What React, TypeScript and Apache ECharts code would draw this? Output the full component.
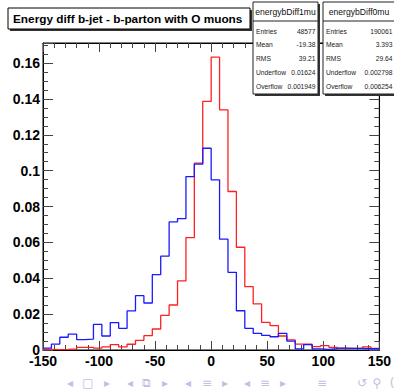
import React, { useEffect, useRef } from "react";
import * as echarts from "echarts";

const xMin = -150;
const xMax = 150;
const binWidth = 7.5;

// bin contents, 40 bins of width 7.5 from -150 to 150
const blueValues = [
  0.001, 0.0033, 0.0071, 0.0089, 0.0058, 0.0061, 0.0143, 0.0078, 0.0153, 0.0121,
  0.0218, 0.0303, 0.0262, 0.042, 0.0523, 0.0714, 0.0733, 0.0967, 0.1036, 0.1125,
  0.0949, 0.0618, 0.0433, 0.0219, 0.0121, 0.0093, 0.0082, 0.0074, 0.0093, 0.005,
  0.0006, 0.003, 0.0006, 0.0004, 0.0007, 0.0011, 0.0009, 0.0009, 0.0007, 0.0007,
];
const redValues = [
  0.0004, 0.0002, 0.0003, 0.0006, 0.0015, 0.0015, 0.0011, 0.0017, 0.003, 0.0017,
  0.0032, 0.0054, 0.008, 0.0117, 0.0193, 0.0251, 0.0385, 0.0627, 0.1042, 0.1386,
  0.1633, 0.1339, 0.0884, 0.0573, 0.0353, 0.0257, 0.0154, 0.0136, 0.0078, 0.0056,
  0.0033, 0.0033, 0.0019, 0.0024, 0.0015, 0.0009, 0.0009, 0.0009, 0.0017, 0.0009,
];

const titleText = "Energy diff b-jet - b-parton with O muons";

const statNames = ["Entries", "Mean", "RMS", "Underflow", "Overflow"];
const stats1Title = "energybDiff1mu";
const stats1Values = ["48577", "-19.38", "39.21", "0.01624", "0.001949"];
const stats0Title = "energybDiff0mu";
const stats0Values = ["190061", "3.393", "29.64", "0.002798", "0.006254"];

const navSymbols = [
  { t: "◂", x: 70 }, { t: "□", x: 88 }, { t: "▸", x: 107 },
  { t: "◂", x: 130 }, { t: "⧉", x: 146 }, { t: "▸", x: 165 },
  { t: "◂", x: 188 }, { t: "≡", x: 207 }, { t: "▸", x: 225 },
  { t: "◂", x: 247 }, { t: "≡", x: 265 }, { t: "▸", x: 283 },
  { t: "≡", x: 322 }, { t: "↺", x: 362 }, { t: "⚲", x: 377 }, { t: "(", x: 392 },
];

const FONT = "Liberation Sans, Arial, sans-serif";
const Z = 100;

function histPoints(values: number[]) {
  const pts: number[][] = values.map((v, i) => [xMin + i * binWidth, v]);
  pts.push([xMax, values[values.length - 1]]);
  return pts;
}

function statsBox(x: number, w: number, title: string, values: string[]) {
  const top = 2;
  const h = 92;
  const els: any[] = [
    { type: "rect", z: Z, shape: { x: x + 2, y: top + 2, width: w, height: h }, style: { fill: "#333" } },
    { type: "rect", z: Z + 1, shape: { x, y: top, width: w, height: h }, style: { fill: "#fff", stroke: "#222", lineWidth: 1 } },
    { type: "line", z: Z + 2, shape: { x1: x, y1: 21, x2: x + w, y2: 21 }, style: { stroke: "#222", lineWidth: 1 } },
    {
      type: "text", z: Z + 2, x: x + w / 2, y: 12,
      style: { text: title, fontSize: 8.6, fontFamily: FONT, fill: "#111", align: "center", verticalAlign: "middle" },
    },
  ];
  const rowY = [31, 44, 58, 72, 86];
  statNames.forEach((n, i) => {
    els.push({
      type: "text", z: Z + 2, x: x + 3, y: rowY[i],
      style: { text: n, fontSize: 6.7, fontFamily: FONT, fill: "#222", align: "left", verticalAlign: "middle" },
    });
    els.push({
      type: "text", z: Z + 2, x: x + w - 2.5, y: rowY[i],
      style: { text: values[i], fontSize: 6.7, fontFamily: FONT, fill: "#222", align: "right", verticalAlign: "middle" },
    });
  });
  return els;
}

export default function App() {
  const ref = useRef<HTMLDivElement>(null);
  useEffect(() => {
    if (!ref.current) return;
    const chart = echarts.init(ref.current, null, { renderer: "svg" });
    const labelFont = { fontFamily: FONT, fontWeight: "bold" as const, fontSize: 14, color: "#000" };
    const tickStyle = { color: "#444", width: 1 };
    const line = { show: true, onZero: false, lineStyle: { color: "#000" } };
    const option: any = {
      animation: false,
      backgroundColor: "#fff",
      grid: { left: 43, right: 11, top: 43, bottom: 40, show: true, borderColor: "#000", borderWidth: 1, containLabel: false },
      xAxis: [
        {
          type: "value", min: xMin, max: xMax, interval: 50, position: "bottom",
          axisLine: line,
          axisTick: { show: true, inside: true, length: 9, lineStyle: tickStyle },
          minorTick: { show: true, splitNumber: 5, length: 5, lineStyle: tickStyle },
          splitLine: { show: false },
          axisLabel: { ...labelFont, margin: 4 },
        },
        {
          type: "value", min: xMin, max: xMax, interval: 50, position: "top",
          axisLine: line,
          axisTick: { show: true, inside: true, length: 9, lineStyle: tickStyle },
          minorTick: { show: true, splitNumber: 5, length: 5, lineStyle: tickStyle },
          splitLine: { show: false },
          axisLabel: { show: false },
        },
      ],
      yAxis: [
        {
          type: "value", min: 0, max: 0.1712, interval: 0.02, position: "left",
          axisLine: line,
          axisTick: { show: true, inside: true, length: 10, lineStyle: tickStyle },
          minorTick: { show: true, splitNumber: 4, length: 5, lineStyle: tickStyle },
          splitLine: { show: false },
          axisLabel: { ...labelFont, margin: 3, showMaxLabel: false },
        },
        {
          type: "value", min: 0, max: 0.1712, interval: 0.02, position: "right",
          axisLine: line,
          axisTick: { show: true, inside: true, length: 10, lineStyle: tickStyle },
          minorTick: { show: true, splitNumber: 4, length: 5, lineStyle: tickStyle },
          splitLine: { show: false },
          axisLabel: { show: false },
        },
      ],
      series: [
        {
          type: "line", name: "energybDiff0mu", step: "end", data: histPoints(redValues),
          showSymbol: false, symbol: "none", lineStyle: { color: "#ff2020", width: 1.3 }, z: 3,
        },
        {
          type: "line", name: "energybDiff1mu", step: "end", data: histPoints(blueValues),
          showSymbol: false, symbol: "none", lineStyle: { color: "#1a1aff", width: 1.3 }, z: 4,
        },
      ],
      graphic: [
        { type: "rect", z: Z, shape: { x: 10, y: 10, width: 242, height: 21 }, style: { fill: "#333" } },
        { type: "rect", z: Z + 1, shape: { x: 8, y: 8, width: 242, height: 21 }, style: { fill: "#fff", stroke: "#000", lineWidth: 1 } },
        {
          type: "text", z: Z + 2, x: 13, y: 19,
          style: { text: titleText, fontSize: 11.8, fontWeight: "bold", fontFamily: FONT, fill: "#000", align: "left", verticalAlign: "middle" },
        },
        ...statsBox(253, 65, stats1Title, stats1Values),
        ...statsBox(323, 72, stats0Title, stats0Values),
        ...navSymbols.map((s) => ({
          type: "text", z: Z, x: s.x, y: 383,
          style: { text: s.t, fontSize: 12, fontFamily: "DejaVu Sans, sans-serif", fill: "#c0c0e2", align: "center", verticalAlign: "middle" },
        })),
      ],
    };
    chart.setOption(option);
    return () => chart.dispose();
  }, []);
  return <div ref={ref} style={{ width: 394, height: 390, position: "absolute", left: 0, top: 0 }} />;
}
